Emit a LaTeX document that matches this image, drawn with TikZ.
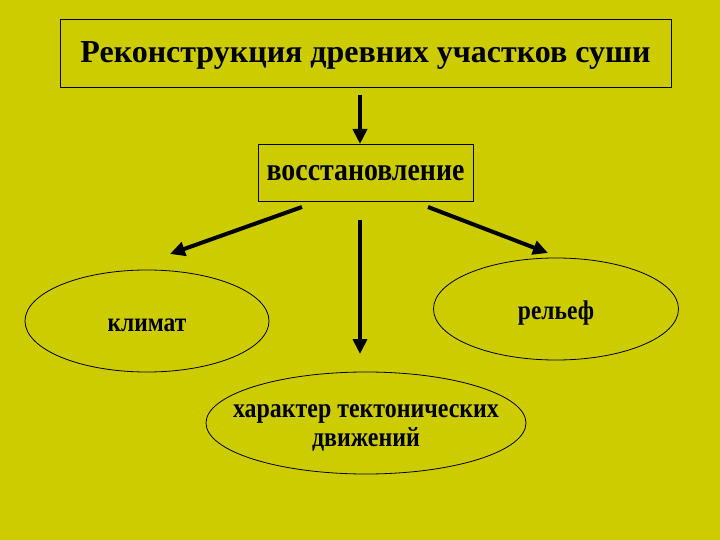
\documentclass[tikz,border=0pt]{standalone}
\usepackage{fontspec}
\setmainfont[FakeStretch=0.87]{Liberation Serif}
\newfontfamily\titlefont{Liberation Serif}
\usetikzlibrary{shapes.geometric, arrows.meta}

\definecolor{slidebg}{RGB}{204,204,0}

\begin{document}
\begin{tikzpicture}[x=1pt, y=-1pt,
  box/.style={draw, line width=1pt, rectangle, inner sep=0pt},
  oval/.style={draw, line width=0.8pt, ellipse, inner sep=0pt},
  txt/.style={font=\bfseries\fontsize{#1}{#1}\selectfont},
  arr/.style={line width=4pt, -{Triangle[length=15pt, width=14pt]}},
]
  \fill[slidebg] (0,0) rectangle (720,540);
  % boxes
  \node[box, minimum width=611pt, minimum height=68pt, text depth=4pt,
    font=\titlefont\bfseries\fontsize{32}{32}\selectfont] (title) at (365.5,54)
    {Реконструкция древних участков суши};
  \node[box, minimum width=215pt, minimum height=57pt, txt=32] (rest) at (365.5,173.5)
    {восстановление};
  % ovals, text set as labels so the oval keeps its size
  \node[oval, minimum width=244pt, minimum height=102pt,
    label={[txt=27, yshift=-4pt]center:климат}] (climate) at (147,321) {};
  \node[oval, minimum width=245pt, minimum height=102pt,
    label={[txt=27, yshift=-4pt]center:рельеф}] (relief) at (556,309) {};
  \node[oval, minimum width=320pt, minimum height=102pt,
    label={[txt=27.5, align=center, yshift=-5pt]center:характер тектонических\\[1pt]движений}] (tecton) at (366,423) {};
  % arrow ends
  \coordinate (t0) at (360,95);   \coordinate (t1) at (360,144);
  \coordinate (l0) at (302,207);  \coordinate (l1) at (170,254);
  \coordinate (r0) at (428,207);  \coordinate (r1) at (548,253);
  \coordinate (m0) at (360,220);  \coordinate (m1) at (360,354);
  \foreach \a in {t,l,r,m} \draw[arr] (\a0) -- (\a1);
\end{tikzpicture}
\end{document}
